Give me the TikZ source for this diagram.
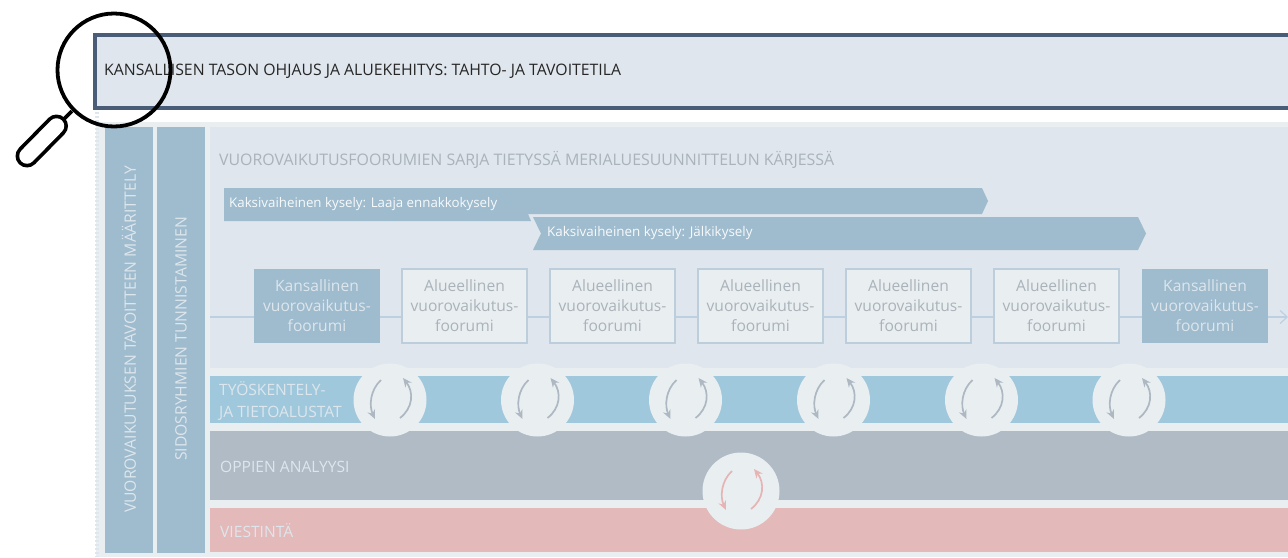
\documentclass[tikz,border=0pt]{standalone}
\usepackage{fontspec}
\setmainfont{Open Sans}
\usetikzlibrary{arrows.meta,calc}
\definecolor{panel}{HTML}{DFE6ED}
\definecolor{pale}{HTML}{E9EEF1}
\definecolor{steel}{HTML}{9FBBCE}
\definecolor{frameblue}{HTML}{4A5D78}
\definecolor{sky}{HTML}{A0C8DC}
\definecolor{grayband}{HTML}{B0BBC6}
\definecolor{pinkband}{HTML}{E4B9B9}
\definecolor{linkc}{HTML}{BCD0E2}
\definecolor{softtext}{HTML}{AAB3BA}
\definecolor{whitetext}{HTML}{DDE6EC}
\definecolor{cyc}{HTML}{ADB8C2}
\definecolor{cycp}{HTML}{E6B4B4}
\tikzset{
  x=1pt,y=-1pt,
  natbox/.style={draw=none,fill=steel,minimum width=126pt,minimum height=74pt,inner sep=0pt,align=center,text=whitetext,font=\fontsize{15.6}{20}\selectfont},
  regbox/.style={draw=steel!55!panel,line width=1.2pt,fill=pale,minimum width=125pt,minimum height=74pt,inner sep=0pt,align=center,text=softtext,font=\fontsize{15.6}{20}\selectfont},
  link/.style={draw=linkc,line width=1.2pt},
  band/.style={anchor=north west,inner sep=0pt,minimum width=1078pt},
  bandtext/.style={anchor=west,inner sep=0pt,align=left,text=whitetext,font=\fontsize{15.6}{21.5}\selectfont},
  vbar/.style={anchor=north west,fill=steel,inner sep=0pt,minimum width=48pt,minimum height=426pt},
  vtext/.style={rotate=90,inner sep=0pt,text=whitetext,font=\fontsize{15.7}{18}\selectfont},
  disc/.style={circle,fill=pale,draw=none,inner sep=0pt},
  cycarrow/.style={line width=1.7pt,-{Stealth[length=9pt,width=8pt]}},
  lens/.style={draw=black,line width=3.8pt},
}
\newcommand{\cyclemark}[2]{%
  \draw[cycarrow,#2] ($(#1)+(-9,-20)$) .. controls ($(#1)+(-20,-10)$) and ($(#1)+(-21,6)$) .. ($(#1)+(-15,19)$);
  \draw[cycarrow,#2] ($(#1)+(10,18)$) .. controls ($(#1)+(23,8)$) and ($(#1)+(24,-8)$) .. ($(#1)+(13,-22)$);
}
\begin{document}
\begin{tikzpicture}
\useasboundingbox (0,0) rectangle (1288,557);
% backing
\fill[pale] (96,122) rectangle (1288,557);
\draw[panel,line width=4pt,dash pattern=on 2pt off 2pt] (97,108) -- (97,557);
% top frame
\node[anchor=north west,draw=frameblue,line width=3.5pt,fill=panel,minimum width=1210pt,minimum height=73pt,inner sep=0pt] (top) at (93.3,33.3) {};
\node[anchor=west,inner sep=0pt,text=black!85,font=\fontsize{15.8}{18}\selectfont] (toplabel) at (104,71) {KANSALLISEN TASON OHJAUS JA ALUEKEHITYS: TAHTO- JA TAVOITETILA};
% vertical bars
\node[vbar] (vb1) at (105,127) {};
\node[vbar] (vb2) at (157,127) {};
\node[vtext,anchor=west] (vt1) at (129,513) {VUOROVAIKUTUKSEN TAVOITTEEN MÄÄRITTELY};
\node[vtext,anchor=west] (vt2) at (181,461) {SIDOSRYHMIEN TUNNISTAMINEN};
% main panel
\node[band,fill=panel,minimum height=241pt] (main) at (210,127) {};
\node[anchor=west,inner sep=0pt,text=softtext,font=\fontsize{15.9}{18}\selectfont] (maintitle) at (219,159.5) {VUOROVAIKUTUSFOORUMIEN SARJA TIETYSSÄ MERIALUESUUNNITTELUN KÄRJESSÄ};
% bands
\node[band,fill=sky,minimum height=47pt] (work) at (210,376) {};
\node[band,fill=grayband,minimum height=69pt] (analysis) at (210,431) {};
\node[band,fill=pinkband,minimum height=44pt] (comm) at (210,508) {};
\node[bandtext] (worklabel) at (219,401) {TYÖSKENTELY-\\JA TIETOALUSTAT};
\node[bandtext] (analysislabel) at (220,467) {OPPIEN ANALYYSI};
\node[bandtext] (commlabel) at (220,531) {VIESTINTÄ};
% survey arrows
\fill[steel] (224,188) -- (982,188) -- (988,201) -- (982,214) -- (528,214) -- (531,221) -- (224,221) -- cycle;
\fill[steel] (533,217) -- (1138,217) -- (1146,233.5) -- (1138,250) -- (533,250) -- (541,233.5) -- cycle;
\node[anchor=west,inner sep=0pt,text=white!92!steel,font=\fontsize{13.3}{16}\selectfont] (s1) at (229,204) {Kaksivaiheinen kysely: Laaja ennakkokysely};
\node[anchor=west,inner sep=0pt,text=white!92!steel,font=\fontsize{13.4}{16}\selectfont] (s2) at (547,233.5) {Kaksivaiheinen kysely: Jälkikysely};
% forum row
\coordinate (lstart) at (210,317);
\coordinate (lend) at (1288,317);
\node[natbox] (f1) at (317,306) {Kansallinen\\vuorovaikutus-\\foorumi};
\node[regbox] (f2) at (464.5,306) {Alueellinen\\vuorovaikutus-\\foorumi};
\node[regbox] (f3) at (612.5,306) {Alueellinen\\vuorovaikutus-\\foorumi};
\node[regbox] (f4) at (760.5,306) {Alueellinen\\vuorovaikutus-\\foorumi};
\node[regbox] (f5) at (908.5,306) {Alueellinen\\vuorovaikutus-\\foorumi};
\node[regbox] (f6) at (1056.5,306) {Alueellinen\\vuorovaikutus-\\foorumi};
\node[natbox] (f7) at (1205,306) {Kansallinen\\vuorovaikutus-\\foorumi};
\draw[link] (lstart) -- (lstart-|f1.west);
\foreach \a/\b in {f1/f2,f2/f3,f3/f4,f4/f5,f5/f6,f6/f7}
  \draw[link] (\a.east|-lstart) -- (\b.west|-lstart);
\draw[link,-{Straight Barb[length=7pt,width=13pt]}] (f7.east|-lstart) -- (lend);
% discs
\foreach \n/\x in {c1/390,c2/537.5,c3/685.5,c4/833.5,c5/981.5,c6/1129}{
  \node[disc,minimum size=73pt] (\n) at (\x,400) {};
  \cyclemark{\n}{cyc}
}
\node[disc,minimum size=77pt] (c7) at (741,491) {};
\cyclemark{c7}{cycp}
% magnifier
\draw[lens] (114,70) circle (56.5);
\draw[lens] (72,111) -- (63,120);
\draw[black,line width=23pt,line cap=round] (56.5,126) -- (27,156);
\draw[white,line width=15.5pt,line cap=round] (56.5,126) -- (27,156);
\end{tikzpicture}
\end{document}
